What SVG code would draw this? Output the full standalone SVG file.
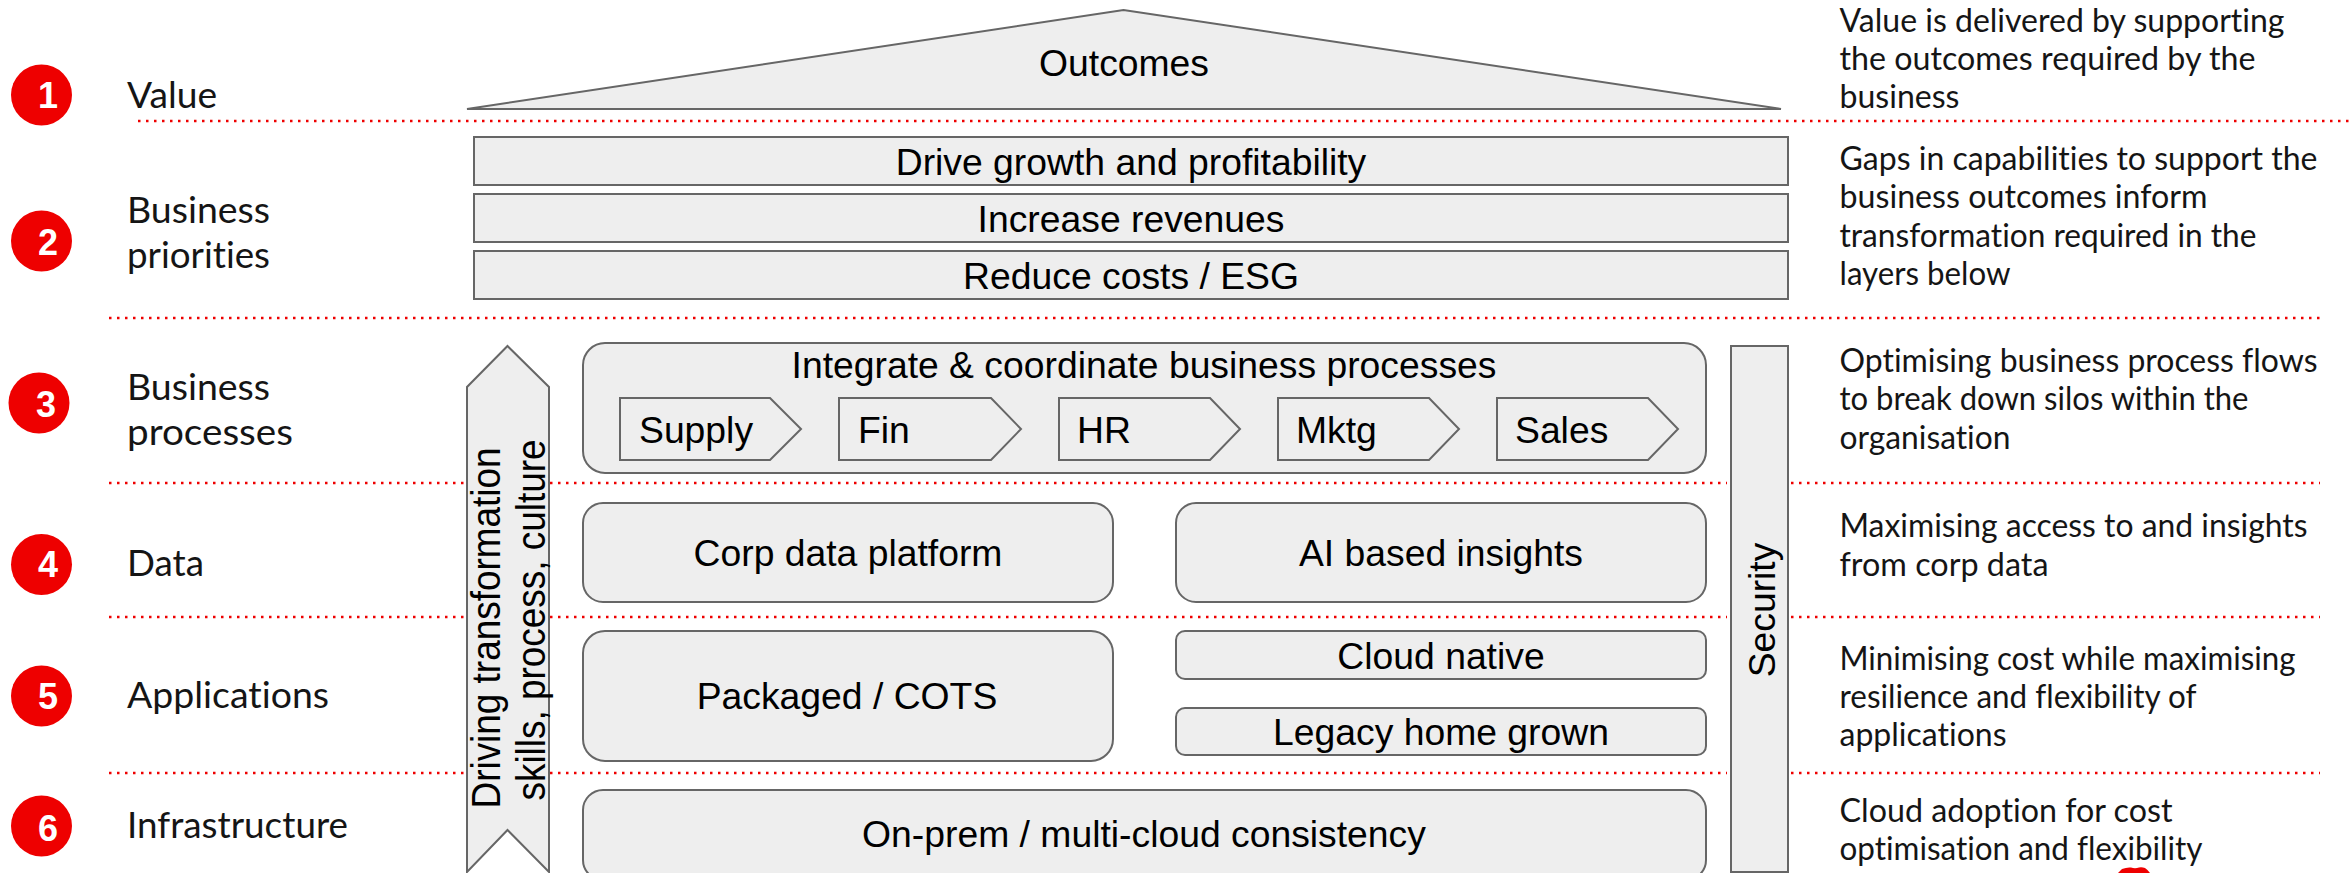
<svg xmlns="http://www.w3.org/2000/svg" width="2349" height="873" viewBox="0 0 2349 873">
<style>
.s{fill:#eeeeee;stroke:#666666;stroke-width:2}
.a{font-family:"Liberation Sans",Arial,sans-serif;font-size:37.3px;fill:#000}
.v{font-size:40px}
.m{text-anchor:middle}
.l{font-family:Lato,"Noto Sans",sans-serif;font-size:37.5px;fill:#151515;font-variant-ligatures:none}
.d{font-family:Lato,"Noto Sans",sans-serif;font-size:32px;fill:#151515;font-variant-ligatures:none}
.n{font-family:"Liberation Sans",Arial,sans-serif;font-size:36px;font-weight:700;fill:#fff;text-anchor:middle}
.dot{stroke:#ee0000;stroke-width:2.5;stroke-dasharray:2.5 5.5;fill:none}
.c{fill:#ee0000}
</style>
<rect width="2349" height="873" fill="#fff"/>
<g id="dividers">
<path class="dot" d="M138 121H2349"/>
<path class="dot" d="M109 318H2320"/>
<path class="dot" d="M109 483H464M550 483H1727M1791 483H2320"/>
<path class="dot" d="M109 617H464M550 617H1727M1791 617H2320"/>
<path class="dot" d="M109 773H464M550 773H1727M1791 773H2320"/>
</g>
<g id="n1"><circle class="c" cx="41.5" cy="95" r="30.5"/><text class="n" x="48" y="108">1</text><text class="l" x="127" y="108" textLength="90" lengthAdjust="spacingAndGlyphs">Value</text></g>
<g id="n2"><circle class="c" cx="41.5" cy="241" r="30.5"/><text class="n" x="48" y="255">2</text><text class="l" x="127" y="223" textLength="143" lengthAdjust="spacingAndGlyphs">Business</text><text class="l" x="127" y="268" textLength="143" lengthAdjust="spacingAndGlyphs">priorities</text></g>
<g id="n3"><circle class="c" cx="39" cy="403" r="30.5"/><text class="n" x="46" y="417">3</text><text class="l" x="127" y="400" textLength="143" lengthAdjust="spacingAndGlyphs">Business</text><text class="l" x="127" y="445" textLength="166" lengthAdjust="spacingAndGlyphs">processes</text></g>
<g id="n4"><circle class="c" cx="41.5" cy="564.5" r="30.5"/><text class="n" x="48" y="577">4</text><text class="l" x="127" y="576" textLength="77" lengthAdjust="spacingAndGlyphs">Data</text></g>
<g id="n5"><circle class="c" cx="41.5" cy="696" r="30.5"/><text class="n" x="48" y="709">5</text><text class="l" x="127" y="708" textLength="202" lengthAdjust="spacingAndGlyphs">Applications</text></g>
<g id="n6"><circle class="c" cx="41.5" cy="826" r="30.5"/><text class="n" x="48" y="841">6</text><text class="l" x="127" y="838" textLength="221" lengthAdjust="spacingAndGlyphs">Infrastructure</text></g>
<g id="outcomes"><polygon class="s" points="467,109 1123.5,10 1781,109"/><text class="a m" x="1124" y="76">Outcomes</text></g>
<g id="growth"><rect class="s" x="474" y="137" width="1314" height="48"/><text class="a m" x="1131" y="175">Drive growth and profitability</text></g>
<g id="revenues"><rect class="s" x="474" y="194" width="1314" height="48"/><text class="a m" x="1131" y="232">Increase revenues</text></g>
<g id="costs"><rect class="s" x="474" y="251" width="1314" height="48"/><text class="a m" x="1131" y="289">Reduce costs / ESG</text></g>
<g id="driving"><polygon class="s" points="507.5,346 549,387 549,872 507.5,830 467,872 467,387"/>
<text class="a v m" transform="translate(500,628) rotate(-90)" textLength="361" lengthAdjust="spacingAndGlyphs">Driving transformation</text>
<text class="a v m" transform="translate(545,620) rotate(-90)" textLength="361" lengthAdjust="spacingAndGlyphs">skills, process, culture</text></g>
<g id="security"><rect class="s" x="1731" y="346" width="57" height="526"/><text class="a m" transform="translate(1774.5,610) rotate(-90)">Security</text></g>
<g id="integrate"><rect class="s" x="583" y="343" width="1123" height="130" rx="22"/><text class="a m" x="1144" y="378">Integrate &amp; coordinate business processes</text></g>
<g id="supply"><polygon class="s" points="620,398 770,398 801,429 770,460 620,460"/><text class="a" x="639" y="443">Supply</text></g>
<g id="fin"><polygon class="s" points="839,398 991,398 1021,429 991,460 839,460"/><text class="a" x="858" y="443">Fin</text></g>
<g id="hr"><polygon class="s" points="1059,398 1210,398 1240,429 1210,460 1059,460"/><text class="a" x="1077" y="443">HR</text></g>
<g id="mktg"><polygon class="s" points="1278,398 1429,398 1459,429 1429,460 1278,460"/><text class="a" x="1296" y="443">Mktg</text></g>
<g id="sales"><polygon class="s" points="1497,398 1648,398 1678,429 1648,460 1497,460"/><text class="a" x="1515" y="443">Sales</text></g>
<g id="corp"><rect class="s" x="583" y="503" width="530" height="99" rx="20"/><text class="a m" x="848" y="566">Corp data platform</text></g>
<g id="ai"><rect class="s" x="1176" y="503" width="530" height="99" rx="20"/><text class="a m" x="1441" y="566">AI based insights</text></g>
<g id="packaged"><rect class="s" x="583" y="631" width="530" height="130" rx="22"/><text class="a m" x="847" y="709">Packaged / COTS</text></g>
<g id="cloud"><rect class="s" x="1176" y="631" width="530" height="48" rx="9"/><text class="a m" x="1441" y="669">Cloud native</text></g>
<g id="legacy"><rect class="s" x="1176" y="708" width="530" height="47" rx="9"/><text class="a m" x="1441" y="745">Legacy home grown</text></g>
<g id="onprem"><rect class="s" x="583" y="790" width="1123" height="90" rx="20"/><text class="a m" x="1144" y="847">On-prem / multi-cloud consistency</text></g>
<g id="descriptions">
<text class="d" x="1839.5" y="32" textLength="445" lengthAdjust="spacingAndGlyphs">Value is delivered by supporting</text><text class="d" x="1839.5" y="70" textLength="416" lengthAdjust="spacingAndGlyphs">the outcomes required by the</text><text class="d" x="1839.5" y="108" textLength="120" lengthAdjust="spacingAndGlyphs">business</text>
<text class="d" x="1839.5" y="170" textLength="478" lengthAdjust="spacingAndGlyphs">Gaps in capabilities to support the</text><text class="d" x="1839.5" y="208" textLength="368" lengthAdjust="spacingAndGlyphs">business outcomes inform</text><text class="d" x="1839.5" y="247" textLength="417" lengthAdjust="spacingAndGlyphs">transformation required in the</text><text class="d" x="1839.5" y="285" textLength="171" lengthAdjust="spacingAndGlyphs">layers below</text>
<text class="d" x="1839.5" y="372" textLength="478" lengthAdjust="spacingAndGlyphs">Optimising business process flows</text><text class="d" x="1839.5" y="410" textLength="409" lengthAdjust="spacingAndGlyphs">to break down silos within the</text><text class="d" x="1839.5" y="449" textLength="171" lengthAdjust="spacingAndGlyphs">organisation</text>
<text class="d" x="1839.5" y="537" textLength="468" lengthAdjust="spacingAndGlyphs">Maximising access to and insights</text><text class="d" x="1839.5" y="576" textLength="209" lengthAdjust="spacingAndGlyphs">from corp data</text>
<text class="d" x="1839.5" y="670" textLength="456" lengthAdjust="spacingAndGlyphs">Minimising cost while maximising</text><text class="d" x="1839.5" y="708" textLength="357" lengthAdjust="spacingAndGlyphs">resilience and flexibility of</text><text class="d" x="1839.5" y="746" textLength="167" lengthAdjust="spacingAndGlyphs">applications</text>
<text class="d" x="1839.5" y="822" textLength="333" lengthAdjust="spacingAndGlyphs">Cloud adoption for cost</text><text class="d" x="1839.5" y="860" textLength="363" lengthAdjust="spacingAndGlyphs">optimisation and flexibility</text>
</g>
<path id="mark" fill="#ee0000" d="M2118 873L2122 869Q2127 867 2131 867.5Q2134 868.5 2137 868Q2141 866.5 2145 868Q2148 870 2150 873Z"/>
</svg>
